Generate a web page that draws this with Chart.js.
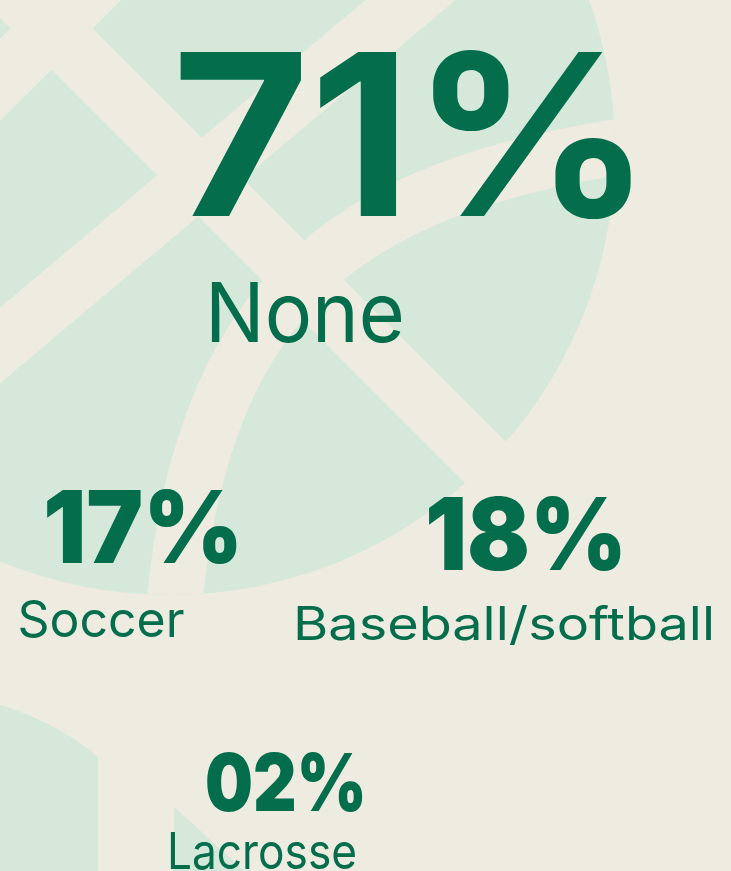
<!DOCTYPE html>
<html>
<head>
<meta charset="utf-8">
<script src="https://cdn.jsdelivr.net/npm/chart.js@4"></script>
<style>
  html, body { margin: 0; padding: 0; background: #eeebe1; }
  canvas { display: block; }
</style>
</head>
<body>
<canvas id="chart" width="731" height="871"></canvas>
<script>
// share of respondents by sport
const categories = ["None", "Soccer", "Baseball/softball", "Lacrosse"];
const shares = [71, 17, 18, 2];

// where each figure / caption sits (page units, y grows downwards)
const figureSpots = [
  { x: 412, y: 216 },
  { x: 143, y: 563 },
  { x: 526, y: 570 },
  { x: 286, y: 811 },
];
const captionSpots = [
  { x: 305, y: 342 },
  { x: 101, y: 637 },
  { x: 504, y: 640 },
  { x: 262, y: 869 },
];

const beige = "#eeebe1";
const paleGreen = "#d5e8da";
const ink = "#036d4c";

const figureStyles = [
  { font: "700 225px Inter, Lato, sans-serif", width: 480 },
  { font: "900 100px Inter, Lato, sans-serif", width: 200 },
  { font: "900 100px Inter, Lato, sans-serif", width: 202 },
  { font: "900 80px Inter, Lato, sans-serif", width: 162 },
];
const captionStyles = [
  { font: "400 83px Inter, Lato, sans-serif", width: 200 },
  { font: "400 50px Inter, Lato, sans-serif", width: 167 },
  { font: "400 46px Inter, Lato, sans-serif", width: 422 },
  { font: "400 50px Inter, Lato, sans-serif", width: 190 },
];

function formatShare(v) {
  return String(v).padStart(2, "0") + "%";
}

// pale balls behind the numbers
const backdrop = {
  id: "backdrop",
  beforeDraw(chart) {
    const { ctx, width, height } = chart;
    ctx.save();
    ctx.fillStyle = beige;
    ctx.fillRect(0, 0, width, height);

    // big ball with net bands and a seam
    ctx.save();
    ctx.beginPath();
    ctx.arc(170, 150, 445, 0, Math.PI * 2);
    ctx.clip();
    ctx.fillStyle = paleGreen;
    ctx.fillRect(0, 0, width, height);
    ctx.strokeStyle = beige;
    ctx.lineWidth = 58;
    ctx.beginPath();
    ctx.moveTo(-100, -123);
    ctx.lineTo(800, 777);
    ctx.moveTo(-100, 429.5);
    ctx.lineTo(429.5 + 100, -100);
    ctx.moveTo(-100, 180);
    ctx.lineTo(180, -100);
    ctx.stroke();
    ctx.lineWidth = 56;
    ctx.beginPath();
    ctx.moveTo(650, 142);
    ctx.bezierCurveTo(300, 190, 175, 330, 168, 720);
    ctx.stroke();
    ctx.restore();

    // bottom left ball
    ctx.save();
    ctx.beginPath();
    ctx.rect(0, 0, 98, height);
    ctx.clip();
    ctx.fillStyle = paleGreen;
    ctx.beginPath();
    ctx.arc(-77, 969, 275, 0, Math.PI * 2);
    ctx.fill();
    ctx.restore();

    ctx.fillStyle = paleGreen;
    ctx.beginPath();
    ctx.moveTo(174, 807);
    ctx.lineTo(252, 878);
    ctx.lineTo(174, 878);
    ctx.closePath();
    ctx.fill();
    ctx.restore();
  },
};

function drawFitted(ctx, text, x, y, style) {
  ctx.font = style.font;
  const w = ctx.measureText(text).width;
  const k = style.width ? style.width / w : 1;
  ctx.save();
  ctx.translate(x, y);
  ctx.scale(k, 1);
  ctx.fillText(text, 0, 0);
  ctx.restore();
}

const bigNumbers = {
  id: "bigNumbers",
  afterDatasetsDraw(chart) {
    const { ctx } = chart;
    ctx.save();
    ctx.fillStyle = ink;
    ctx.textAlign = "center";
    ctx.textBaseline = "alphabetic";
    chart.getDatasetMeta(0).data.forEach((pt, i) => {
      drawFitted(ctx, formatShare(shares[i]), pt.x, pt.y, figureStyles[i]);
    });
    chart.getDatasetMeta(1).data.forEach((pt, i) => {
      drawFitted(ctx, categories[i], pt.x, pt.y, captionStyles[i]);
    });
    ctx.restore();
  },
};

new Chart(document.getElementById("chart").getContext("2d"), {
  type: "scatter",
  data: {
    datasets: [
      { label: "share", data: figureSpots, pointRadius: 0 },
      { label: "sport", data: captionSpots, pointRadius: 0 },
    ],
  },
  options: {
    responsive: false,
    animation: false,
    devicePixelRatio: 1,
    layout: { padding: 0 },
    plugins: { legend: { display: false }, tooltip: { enabled: false } },
    scales: {
      x: { type: "linear", min: 0, max: 731, display: false },
      y: { type: "linear", min: 0, max: 871, reverse: true, display: false },
    },
  },
  plugins: [backdrop, bigNumbers],
});
</script>
</body>
</html>
